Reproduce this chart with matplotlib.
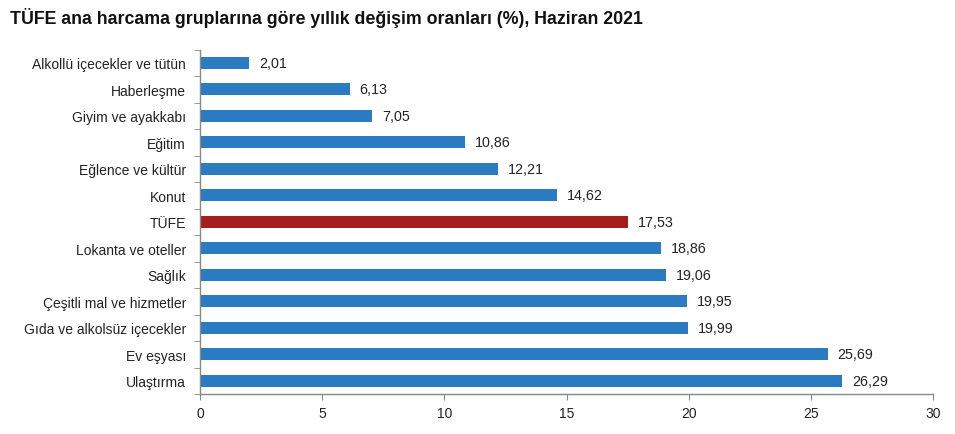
import matplotlib
matplotlib.use("Agg")
import matplotlib.pyplot as plt
import numpy as np

categories = ["Alkollü içecekler ve tütün", "Haberleşme", "Giyim ve ayakkabı", "Eğitim",
              "Eğlence ve kültür", "Konut", "TÜFE", "Lokanta ve oteller", "Sağlık",
              "Çeşitli mal ve hizmetler", "Gıda ve alkolsüz içecekler", "Ev eşyası", "Ulaştırma"]
values = [2.01, 6.13, 7.05, 10.86, 12.21, 14.62, 17.53, 18.86, 19.06, 19.95, 19.99, 25.69, 26.29]
value_labels = ["2,01", "6,13", "7,05", "10,86", "12,21", "14,62", "17,53", "18,86", "19,06",
                "19,95", "19,99", "25,69", "26,29"]
xticks = [0, 5, 10, 15, 20, 25, 30]

plt.rcParams['font.family'] = ['Liberation Sans', 'DejaVu Sans']

fig = plt.figure(figsize=(9.55, 4.35), dpi=100)
ax = fig.add_axes([200/955, 1-395/435, 733/955, 344.5/435])

blue = "#2B7BC3"
red = "#A51D1D"
colors = [red if c == "TÜFE" else blue for c in categories]
y = np.arange(len(categories))
ax.barh(y, values, height=0.46, color=colors, zorder=2)
for yi, v, lab in zip(y, values, value_labels):
    ax.text(v + 0.4, yi, lab, va="center", ha="left", fontsize=10.3, color="#222222")

ax.set_ylim(len(categories) - 0.5, -0.5)
ax.set_xlim(0, 30)
ax.set_yticks(y)
ax.set_yticklabels(categories, fontsize=10, color="#222222")
ax.set_yticks(np.arange(-0.5, len(categories)), minor=True)
ax.tick_params(axis="y", which="major", length=0, pad=10)
ax.tick_params(axis="y", which="minor", length=4, color="#888888", direction="out")
ax.set_xticks(xticks)
ax.set_xticklabels([str(t) for t in xticks], fontsize=10, color="#222222")
ax.tick_params(axis="x", length=4, color="#888888", pad=5)

for s in ["top", "right"]:
    ax.spines[s].set_visible(False)
for s in ["left", "bottom"]:
    ax.spines[s].set_color("#888888")
    ax.spines[s].set_linewidth(1)

fig.text(10/955, 1-18/435, "TÜFE ana harcama gruplarına göre yıllık değişim oranları (%), Haziran 2021",
         fontsize=12.8, fontweight="bold", va="center", ha="left", color="#111111")

fig.savefig("out.png", dpi=100, facecolor="white")
